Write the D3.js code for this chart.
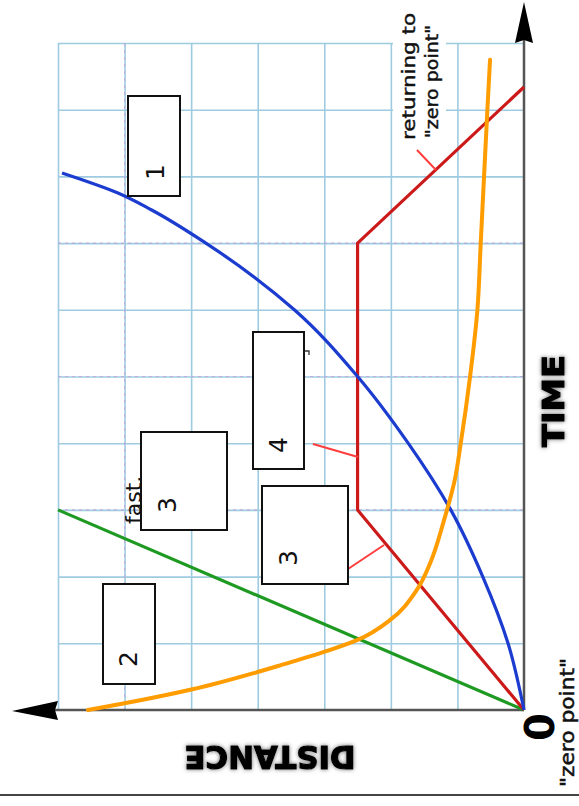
<!DOCTYPE html>
<html>
<head>
<meta charset="utf-8">
<script src="https://cdn.jsdelivr.net/npm/d3@7/dist/d3.min.js"></script>
<style>
  html, body { margin: 0; padding: 0; background: #fff; }
  svg { display: block; }
</style>
</head>
<body>
<svg id="chart" width="579" height="806"></svg>
<script>
// ---------------- DATA (time units, distance units) ----------------
const timeTicks = [1, 2, 3, 4, 5, 6, 7, 8, 9, 10];
const distanceTicks = [1, 2, 3, 4, 5, 6, 7];
const dashedTimeTicks = [3, 5, 7];
const dashedDistanceTicks = [6];

// each point: [time, distance]
const greenSeries = [[0, 0], [3, 7]];
const redSeries = [[0, 0], [3, 2.5], [7, 2.5], [9.34, 0]];
const blueSeries = [[0, 0], [1, 0.24], [2, 0.62], [3, 1.1], [4, 1.74], [5, 2.5], [6, 3.45],
                    [7, 4.78], [7.5, 5.6], [7.75, 6.1], [8.05, 6.94]];
const orangeSeries = [[0, 6.55], [0.1, 6.0], [0.31, 4.98], [0.57, 4.0], [0.67, 3.66], [0.9, 2.91],
                      [1.05, 2.5], [1.35, 2.01], [1.8, 1.61], [2.2, 1.41], [2.85, 1.2], [3.45, 1.04],
                      [4, 0.95], [5, 0.81], [6, 0.7], [7, 0.65], [8, 0.6], [9, 0.55], [9.75, 0.51]];

const boxLabels = ["1", "2", "3", "4", "3"];
const axisTimeLabel = "TIME";
const axisDistanceLabel = "DISTANCE";
const originLabel = "0";
const originNote = "\"zero point\"";
const returnNote = ["returning to", "\"zero point\""];
const fastNote = "fast.";

// ---------------- LAYOUT ----------------
const svg = d3.select("#chart");
const X0 = 524, X1 = 58, Y0 = 710, Y1 = 43;
const xS = d3.scaleLinear().domain([0, 7]).range([X0, X1]);   // distance -> leftwards
const yS = d3.scaleLinear().domain([0, 10]).range([Y0, Y1]);  // time -> upwards

const defs = svg.append("defs");
const f = defs.append("filter").attr("id", "blurShadow")
  .attr("x", "-20%").attr("y", "-40%").attr("width", "140%").attr("height", "180%");
f.append("feGaussianBlur").attr("in", "SourceAlpha").attr("stdDeviation", 2.2).attr("result", "b");
f.append("feFlood").attr("flood-color", "#555").attr("flood-opacity", 0.85);
f.append("feComposite").attr("in2", "b").attr("operator", "in").attr("result", "s");
const fm = f.append("feMerge");
fm.append("feMergeNode").attr("in", "s");
fm.append("feMergeNode").attr("in", "SourceGraphic");

// ---------------- GRID ----------------
const grid = svg.append("g");
const gridBlue = "#9fcbe0";
grid.append("g").attr("transform", `translate(${X0},0)`)
  .call(d3.axisLeft(yS).tickValues(timeTicks).tickSize(X0 - X1).tickFormat(""))
  .call(g => g.select(".domain").remove())
  .call(g => g.selectAll("line").attr("stroke", gridBlue).attr("stroke-width", 1.6));
grid.append("g").attr("transform", `translate(0,${Y0})`)
  .call(d3.axisTop(xS).tickValues(distanceTicks).tickSize(Y0 - Y1).tickFormat(""))
  .call(g => g.select(".domain").remove())
  .call(g => g.selectAll("line").attr("stroke", gridBlue).attr("stroke-width", 1.6));
grid.selectAll("line.dh").data(dashedTimeTicks).join("line")
  .attr("x1", X1).attr("x2", X0).attr("y1", d => yS(d)).attr("y2", d => yS(d))
  .attr("stroke", "#c6a3dc").attr("stroke-width", 1.1).attr("stroke-dasharray", "3,4").attr("opacity", 0.8);
grid.selectAll("line.dv").data(dashedDistanceTicks).join("line")
  .attr("y1", Y1).attr("y2", Y0).attr("x1", d => xS(d)).attr("x2", d => xS(d))
  .attr("stroke", "#c6a3dc").attr("stroke-width", 1.1).attr("stroke-dasharray", "3,4").attr("opacity", 0.8);

// white background behind "returning to" note
svg.append("rect").attr("x", 393).attr("y", 0).attr("width", 53).attr("height", 145).attr("fill", "#fff");

// ---------------- AXES ----------------
svg.append("line").attr("x1", X0).attr("x2", X0).attr("y1", Y0).attr("y2", 40)
  .attr("stroke", "#555").attr("stroke-width", 2.5);
svg.append("line").attr("x1", X0).attr("x2", 55).attr("y1", Y0).attr("y2", Y0)
  .attr("stroke", "#555").attr("stroke-width", 2.5);
svg.append("path").attr("d", `M${X0},2 L${X0 + 9},43 L${X0},40 L${X0 - 9},43 Z`).attr("fill", "#000");
svg.append("path").attr("d", `M12,${Y0 + 1} L58,${Y0 - 9} L55,${Y0} L58,${Y0 + 10} Z`).attr("fill", "#000");

// bottom rule
svg.append("line").attr("x1", 0).attr("x2", 579).attr("y1", 795).attr("y2", 795)
  .attr("stroke", "#444").attr("stroke-width", 2);

// ---------------- CURVES ----------------
const lineGen = d3.line().x(p => xS(p[1])).y(p => yS(p[0]));
const smooth = d3.line().x(p => xS(p[1])).y(p => yS(p[0])).curve(d3.curveMonotoneY);

svg.append("path").datum(greenSeries).attr("d", lineGen).attr("fill", "none")
  .attr("stroke", "#1e9a22").attr("stroke-width", 3.2);
svg.append("path").datum(redSeries).attr("d", lineGen).attr("fill", "none")
  .attr("stroke", "#cc1a1a").attr("stroke-width", 3.2).attr("stroke-linejoin", "miter");
svg.append("path").datum(blueSeries).attr("d", smooth).attr("fill", "none")
  .attr("stroke", "#1b3ccf").attr("stroke-width", 3.2);
svg.append("path").datum(orangeSeries).attr("d", smooth).attr("fill", "none")
  .attr("stroke", "#ff9c00").attr("stroke-width", 4).attr("stroke-linecap", "round");

// ---------------- POINTERS ----------------
const pointerColor = "#ff3d3d";
[[313, 444, 358, 457], [348, 569, 384, 545], [417, 150, 436, 170]].forEach(p => {
  svg.append("line").attr("x1", p[0]).attr("y1", p[1]).attr("x2", p[2]).attr("y2", p[3])
    .attr("stroke", pointerColor).attr("stroke-width", 2);
});
svg.append("path").attr("d", "M304,351 L309,351 L309,355").attr("fill", "none")
  .attr("stroke", "#333").attr("stroke-width", 1.3);

// "fast." (partly under box 3)
svg.append("text").attr("transform", "translate(141,524) rotate(-90)")
  .attr("font-family", "DejaVu Sans").attr("font-size", 22).attr("fill", "#111").text(fastNote);

// ---------------- BOXES ----------------
const boxRects = [[128, 96, 52, 100], [103, 584, 52, 100], [141, 432, 86, 98], [253, 332, 51, 137], [262, 486, 86, 98]];
const labelPos = [[155, 172], [128, 659], [167, 505], [278, 445], [288, 558]];
boxRects.forEach((b, i) => {
  svg.append("rect").attr("x", b[0]).attr("y", b[1]).attr("width", b[2]).attr("height", b[3])
    .attr("fill", "#fff").attr("stroke", "#111").attr("stroke-width", 2);
  svg.append("text").attr("transform", `translate(${labelPos[i][0]},${labelPos[i][1]}) rotate(-90)`)
    .attr("text-anchor", "middle").attr("dominant-baseline", "central")
    .attr("font-family", "DejaVu Sans").attr("font-size", 25).attr("fill", "#111").text(boxLabels[i]);
});

// ---------------- TEXT ----------------
svg.append("text").attr("transform", "translate(553,401) rotate(-90)")
  .attr("text-anchor", "middle").attr("dominant-baseline", "central")
  .attr("font-family", "DejaVu Sans").attr("font-weight", "bold").attr("font-size", 31)
  .attr("textLength", 92).attr("lengthAdjust", "spacingAndGlyphs")
  .attr("stroke", "#000").attr("stroke-width", 1.2).attr("filter", "url(#blurShadow)")
  .text(axisTimeLabel);

svg.append("text").attr("transform", "translate(270,757) rotate(180)")
  .attr("text-anchor", "middle").attr("dominant-baseline", "central")
  .attr("font-family", "DejaVu Sans").attr("font-weight", "bold").attr("font-size", 32)
  .attr("textLength", 171).attr("lengthAdjust", "spacingAndGlyphs")
  .attr("stroke", "#000").attr("stroke-width", 1.2).attr("filter", "url(#blurShadow)")
  .text(axisDistanceLabel);

svg.append("text").attr("transform", "translate(540,727) rotate(-90)")
  .attr("text-anchor", "middle").attr("dominant-baseline", "central")
  .attr("font-family", "DejaVu Sans").attr("font-weight", "bold").attr("font-size", 40)
  .attr("fill", "#000").text(originLabel);

svg.append("text").attr("transform", "translate(574,787) rotate(-90)")
  .attr("font-family", "DejaVu Sans").attr("font-size", 20)
  .attr("textLength", 129).attr("lengthAdjust", "spacingAndGlyphs")
  .attr("fill", "#111").attr("stroke", "#111").attr("stroke-width", 0.5).text(originNote);

returnNote.forEach((t, i) => {
  svg.append("text").attr("transform", `translate(${i === 0 ? 415 : 438},${i === 0 ? 140 : 138}) rotate(-90)`)
    .attr("font-family", "DejaVu Sans").attr("font-size", 18)
    .attr("textLength", i === 0 ? 127 : 113).attr("lengthAdjust", "spacingAndGlyphs")
    .attr("fill", "#111").attr("stroke", "#111").attr("stroke-width", 0.4).text(t);
});
</script>
</body>
</html>
